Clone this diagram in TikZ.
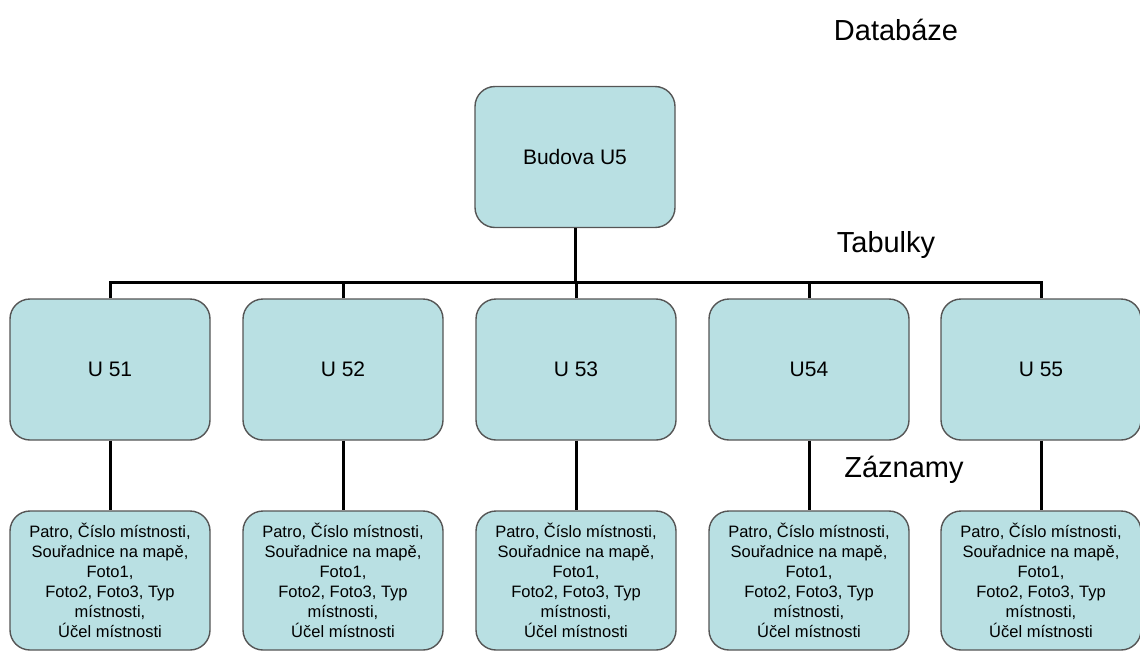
\documentclass[tikz,border=0pt]{standalone}
\usepackage{fontspec}
\setmainfont{Liberation Sans}
\definecolor{boxfill}{RGB}{185,224,227}
\definecolor{boxline}{RGB}{85,85,85}
\tikzset{
  tbox/.style={draw=boxline, line width=1.4pt, fill=boxfill, rounded corners=20pt,
    inner sep=0pt, align=center, text=black},
  bigbox/.style={tbox, minimum width=200pt, minimum height=141pt, font=\fontsize{21}{25}\selectfont},
  recbox/.style={tbox, minimum width=200pt, minimum height=139pt, font=\fontsize{16.5}{20}\selectfont},
  link/.style={line width=3pt, black},
  caption/.style={font=\fontsize{29}{34}\selectfont, anchor=center}
}
\begin{document}
\begin{tikzpicture}[x=1pt,y=-1pt]
  \useasboundingbox (0,0) rectangle (1140,651);

  % captions
  \node[caption] (db) at (896,30) {Databáze};
  \node[caption] (tab) at (886,245) {Tabulky};
  \node[caption] (zaz) at (904,470) {Záznamy};

  % root
  \node[bigbox] (root) at (575,157) {Budova U5};

  % tables and their record boxes
  \foreach \n/\x/\t in {u1/110/U 51, u2/343/U 52, u3/576/U 53, u4/809/U54, u5/1041/U 55}{
    \node[bigbox] (\n) at (\x,369.5) {\t};
    \node[recbox] (r\n) at (\x,580.5) {Patro, Číslo místnosti,\\ Souřadnice na mapě,\\ Foto1,\\ Foto2, Foto3, Typ\\ místnosti,\\ Účel místnosti};
  }

  \coordinate (bar) at (575,282);

  % connectors
  \draw[link] (root.south) -- (root.south |- bar);
  \draw[link] (u1.north) -- (u1.north |- bar) -- (u5.north |- bar) -- (u5.north);
  \foreach \n in {u2,u3,u4}{
    \draw[link] (\n.north) -- (\n.north |- bar);
  }
  \foreach \n in {u1,u2,u3,u4,u5}{
    \draw[link] (\n.south) -- (r\n.north);
  }
\end{tikzpicture}
\end{document}
